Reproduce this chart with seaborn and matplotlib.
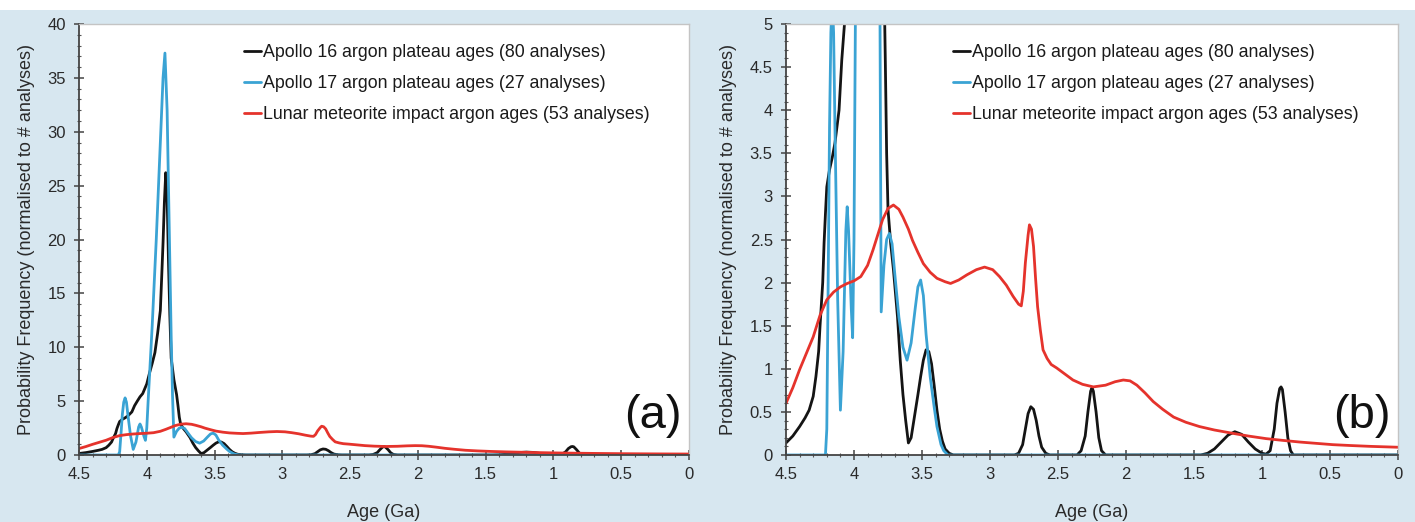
import matplotlib
matplotlib.use("Agg")
import matplotlib.pyplot as plt
import seaborn as sns
import pandas as pd
from matplotlib.patches import Rectangle
from matplotlib.ticker import MultipleLocator, FormatStrFormatter

# Apollo 16 argon plateau ages (black)
a16_age = [4.50, 4.45, 4.40, 4.36, 4.33, 4.30, 4.28, 4.26, 4.25, 4.23, 4.22, 4.21, 4.20, 4.18,
           4.16, 4.14, 4.11, 4.09, 4.07, 4.05, 4.03, 4.00, 3.98, 3.96, 3.94, 3.92, 3.90, 3.89,
           3.88, 3.87, 3.86, 3.85, 3.84, 3.83, 3.82, 3.80, 3.78, 3.77, 3.76, 3.75, 3.73, 3.71,
           3.68, 3.66, 3.64, 3.62, 3.60, 3.58, 3.56, 3.53, 3.51, 3.49, 3.47, 3.45, 3.43, 3.41,
           3.39, 3.37, 3.35, 3.33, 3.30, 3.27,
           2.82, 2.79, 2.76, 2.74, 2.72, 2.70, 2.68, 2.66, 2.64, 2.62, 2.59, 2.56,
           2.36, 2.33, 2.30, 2.28, 2.26, 2.25, 2.24, 2.22, 2.20, 2.18, 2.15,
           1.45, 1.40, 1.35, 1.30, 1.25, 1.20, 1.15, 1.10, 1.05, 1.00, 0.97, 0.94, 0.91,
           0.89, 0.87, 0.86, 0.85, 0.83, 0.81, 0.79, 0.77, 0.00]
a16_freq = [0.14, 0.22, 0.33, 0.43, 0.52, 0.68, 0.91, 1.20, 1.49, 2.00, 2.46, 2.80, 3.11, 3.31,
            3.45, 3.62, 4.00, 4.58, 5.00, 5.40, 5.70, 6.60, 7.60, 8.50, 9.50, 11.3, 13.4, 16.5,
            19.7, 23.5, 26.2, 24.0, 18.0, 13.0, 9.0, 7.0, 5.6, 4.6, 3.5, 2.85, 2.45, 2.15,
            1.60, 1.10, 0.70, 0.40, 0.14, 0.20, 0.40, 0.70, 0.91, 1.10, 1.22, 1.20, 1.06, 0.80,
            0.52, 0.30, 0.16, 0.07, 0.02, 0.00,
            0.00, 0.02, 0.12, 0.30, 0.48, 0.56, 0.53, 0.40, 0.22, 0.09, 0.02, 0.00,
            0.00, 0.05, 0.22, 0.50, 0.74, 0.78, 0.74, 0.50, 0.20, 0.05, 0.00,
            0.00, 0.02, 0.07, 0.15, 0.23, 0.27, 0.24, 0.15, 0.07, 0.02, 0.01, 0.05, 0.30,
            0.60, 0.77, 0.79, 0.76, 0.50, 0.20, 0.05, 0.00, 0.00]

# Apollo 17 argon plateau ages (blue)
a17_age = [4.50, 4.21, 4.20, 4.19, 4.18, 4.17, 4.16, 4.15, 4.14, 4.12, 4.10, 4.08, 4.06, 4.05,
           4.04, 4.02, 4.01, 4.00, 3.99, 3.96, 3.93, 3.90, 3.88, 3.866, 3.85, 3.84, 3.83, 3.82,
           3.81, 3.80, 3.78, 3.76, 3.74, 3.72, 3.70, 3.67, 3.64, 3.61, 3.58, 3.55, 3.53, 3.51,
           3.49, 3.47, 3.44, 3.41, 3.39, 3.36, 3.34, 3.31, 0.00]
a17_freq = [0.00, 0.00, 0.30, 2.00, 3.80, 4.90, 5.30, 4.90, 3.80, 1.80, 0.52, 1.20, 2.60, 2.88,
            2.60, 1.70, 1.36, 2.50, 5.00, 12.0, 20.0, 29.0, 35.0, 37.3, 32.0, 25.0, 18.0, 11.0,
            5.50, 1.66, 2.20, 2.50, 2.57, 2.45, 2.10, 1.60, 1.25, 1.10, 1.30, 1.70, 1.95, 2.03,
            1.85, 1.40, 0.91, 0.55, 0.33, 0.12, 0.05, 0.00, 0.00]

# Lunar meteorite impact argon ages (red)
lm_age = [4.50, 4.45, 4.40, 4.35, 4.30, 4.25, 4.20, 4.15, 4.10, 4.05, 4.00, 3.95, 3.90, 3.86,
          3.82, 3.79, 3.75, 3.71, 3.67, 3.64, 3.60, 3.57, 3.53, 3.49, 3.44, 3.39, 3.33, 3.29,
          3.23, 3.17, 3.10, 3.04, 2.98, 2.93, 2.88, 2.83, 2.79, 2.77, 2.755, 2.74, 2.72, 2.71,
          2.695, 2.68, 2.665, 2.65, 2.63, 2.61, 2.58, 2.55, 2.51, 2.45, 2.39, 2.32, 2.24, 2.15,
          2.08, 2.02, 1.97, 1.92, 1.86, 1.80, 1.73, 1.65, 1.56, 1.46, 1.35, 1.21, 1.10, 0.97,
          0.85, 0.72, 0.60, 0.48, 0.35, 0.20, 0.00]
lm_freq = [0.60, 0.78, 0.99, 1.18, 1.37, 1.62, 1.80, 1.89, 1.95, 1.99, 2.02, 2.07, 2.20, 2.38,
           2.58, 2.73, 2.86, 2.90, 2.85, 2.76, 2.62, 2.49, 2.35, 2.22, 2.12, 2.05, 2.01, 1.99,
           2.03, 2.09, 2.15, 2.18, 2.15, 2.07, 1.97, 1.84, 1.75, 1.73, 1.90, 2.23, 2.55, 2.67,
           2.62, 2.42, 2.05, 1.72, 1.45, 1.22, 1.12, 1.05, 1.01, 0.94, 0.87, 0.82, 0.79, 0.81,
           0.85, 0.87, 0.86, 0.81, 0.72, 0.62, 0.53, 0.44, 0.38, 0.33, 0.29, 0.25, 0.22, 0.19,
           0.17, 0.15, 0.135, 0.12, 0.11, 0.10, 0.09]

labels = ["Apollo 16 argon plateau ages (80 analyses)",
          "Apollo 17 argon plateau ages (27 analyses)",
          "Lunar meteorite impact argon ages (53 analyses)"]
colors = ["#141414", "#3aa3d4", "#e5332c"]

df = pd.concat([
    pd.DataFrame({"age": a16_age, "freq": a16_freq, "series": labels[0]}),
    pd.DataFrame({"age": a17_age, "freq": a17_freq, "series": labels[1]}),
    pd.DataFrame({"age": lm_age, "freq": lm_freq, "series": labels[2]}),
], ignore_index=True)

sns.set_theme(style="white")
plt.rcParams["font.family"] = ["Liberation Sans", "DejaVu Sans"]

bg = "#d7e7f0"
fig = plt.figure(figsize=(14.15, 5.22), dpi=100, facecolor=bg)
# thin white strip along top edge
fig.add_artist(Rectangle((0, 1 - 10 / 522), 1, 10 / 522, transform=fig.transFigure,
                         facecolor="white", edgecolor="none", zorder=-1))

panels = [
    dict(rect=[79 / 1415, 67 / 522, 610 / 1415, 431 / 522], ymax=40, ymaj=5, ymin=1, tag="(a)"),
    dict(rect=[786 / 1415, 67 / 522, 612 / 1415, 431 / 522], ymax=5, ymaj=0.5, ymin=0.1, tag="(b)"),
]

for p in panels:
    ax = fig.add_axes(p["rect"])
    ax.set_facecolor("white")
    sns.lineplot(data=df, x="age", y="freq", hue="series", palette=colors,
                 sort=False, estimator=None, linewidth=2.0, ax=ax)
    ax.set_xlim(4.5, 0)
    ax.set_ylim(0, p["ymax"])
    ax.xaxis.set_major_locator(MultipleLocator(0.5))
    ax.xaxis.set_minor_locator(MultipleLocator(0.1))
    ax.yaxis.set_major_locator(MultipleLocator(p["ymaj"]))
    ax.yaxis.set_minor_locator(MultipleLocator(p["ymin"]))
    ax.xaxis.set_major_formatter(FormatStrFormatter("%g"))
    ax.yaxis.set_major_formatter(FormatStrFormatter("%g"))
    ax.tick_params(which="major", direction="inout", length=7, width=1.1, color="#444444",
                   labelsize=12, labelcolor="#2a2a2a", bottom=True, left=True)
    ax.tick_params(which="minor", direction="inout", length=3.5, width=0.8, color="#555555",
                   bottom=True, left=True)
    ax.tick_params(axis="x", which="major", pad=5)
    ax.tick_params(axis="y", which="major", pad=6)
    for side in ["left", "bottom"]:
        ax.spines[side].set_color("#444444")
        ax.spines[side].set_linewidth(1.3)
    for side in ["top", "right"]:
        ax.spines[side].set_color("#c4c4c4")
        ax.spines[side].set_linewidth(1.0)
    ax.set_xlabel("Age (Ga)", fontsize=13, color="#2a2a2a", labelpad=16)
    ax.set_ylabel("Probability Frequency (normalised to # analyses)", fontsize=13,
                  color="#2a2a2a", labelpad=9)
    ax.legend(loc="upper right", bbox_to_anchor=(0.962, 0.99), frameon=False,
              fontsize=12.8, handlelength=1.0, handletextpad=0.1, labelspacing=0.78,
              labelcolor="#1a1a1a")
    ax.text(0.988, 0.04, p["tag"], transform=ax.transAxes, ha="right", va="bottom",
            fontsize=34, color="#111111")

fig.savefig("out.png", dpi=100, facecolor=bg)
